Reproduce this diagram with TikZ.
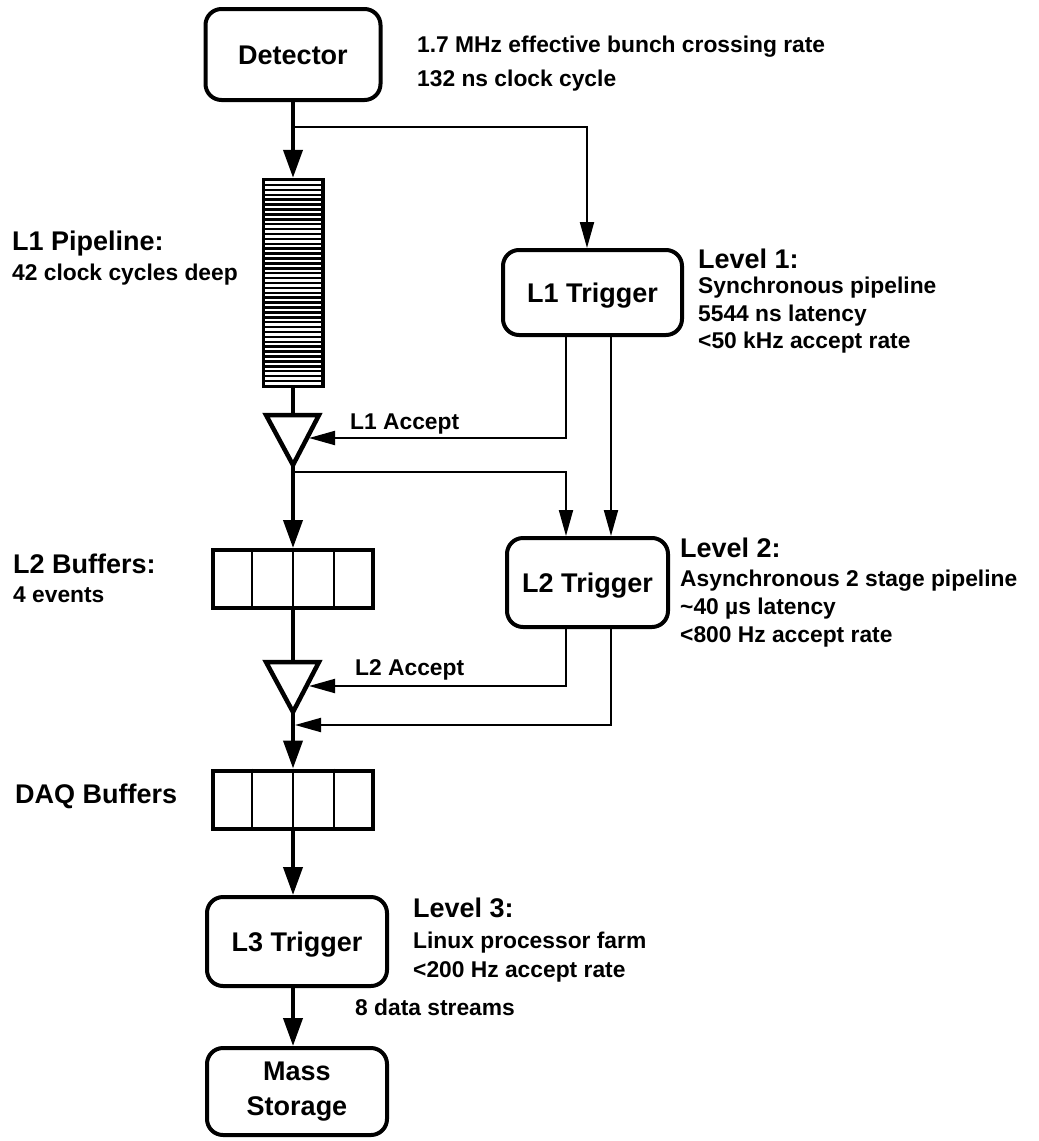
\documentclass[tikz,border=0pt]{standalone}
\usepackage{fontspec}
\setmainfont{Liberation Sans}
\usetikzlibrary{arrows.meta,calc}
\newcommand\dfBig{\fontsize{27}{35}\selectfont\bfseries}
\newcommand\dfSmall{\fontsize{22.8}{27}\selectfont\bfseries}
\tikzset{
  box/.style={draw, line width=4pt, rounded corners=16pt, inner sep=0pt, font=\dfBig, align=center},
  onel/.style={text height=19.5pt, text depth=0pt},
  buf/.style={draw, line width=4pt, minimum width=160pt, minimum height=58pt, inner sep=0pt},
  pipe/.style={fill=black, minimum width=63pt, minimum height=210pt, inner sep=0pt},
  tri/.style={line width=4.5pt, line join=miter},
  thickline/.style={line width=4pt},
  thickarrow/.style={line width=4pt, -{Triangle[length=28pt,width=19pt]}},
  thinarrow/.style={line width=2pt, -{Triangle[length=26pt,width=14pt]}},
  lbl/.style={anchor=base west, inner sep=0pt, font=\dfSmall},
  ttl/.style={anchor=base west, inner sep=0pt, font=\dfBig},
}
\begin{document}
\begin{tikzpicture}[x=1pt,y=-1pt]
\useasboundingbox (0,0) rectangle (1039,1141);

% boxes
\node[box, onel, minimum width=175pt, minimum height=91pt] (det) at (293,54.5) {Detector};
\node[box, onel, minimum width=179pt, minimum height=85pt] (l1) at (592.5,292.5) {L1 Trigger};
\node[box, onel, minimum width=161pt, minimum height=89pt] (l2) at (587.5,582.5) {L2 Trigger};
\node[box, onel, minimum width=180pt, minimum height=89pt] (l3) at (297,941.5) {L3 Trigger};
\node[box, minimum width=180pt, minimum height=87pt] (ms) at (297,1091.5) {Mass\\Storage};

% pipeline
\node[pipe] (pipe) at (293,283) {};
\foreach \k in {0,...,41} {
  \draw[white, line width=2.4pt] (265,{182.5+4.9*\k}) -- (321,{182.5+4.9*\k});
}

% buffers
\node[buf] (l2b) at (293,579) {};
\node[buf] (daq) at (293,799.5) {};
\foreach \b in {l2b,daq} {
  \foreach \f in {0.25,0.5,0.75} {
    \draw[line width=2.5pt] ($(\b.north west)!\f!(\b.north east)$) -- ($(\b.south west)!\f!(\b.south east)$);
  }
}

% triangles
\coordinate (t1l) at (266,415); \coordinate (t1r) at (319,415);
\coordinate (t1a) at (293,465); \coordinate (t1t) at (293,415);
\coordinate (t1e) at (309,438);
\draw[tri] (t1l) -- (t1r) -- (t1a) -- cycle;
\coordinate (t2l) at (266,662); \coordinate (t2r) at (319,662);
\coordinate (t2a) at (293,712); \coordinate (t2t) at (293,662);
\coordinate (t2e) at (309,686);
\draw[tri] (t2l) -- (t2r) -- (t2a) -- cycle;

% connectors
\coordinate (br1) at (293,127);
\coordinate (br2) at (293,472);
\coordinate (sp2) at (295,725);
\draw[thickarrow] (det.south) -- (det.south |- pipe.north);
\draw[thinarrow] (br1) -| ([xshift=-5.5pt]l1.north);
\draw[thickline] (pipe.south) -- (t1t);
\draw[thinarrow] ([xshift=-26.5pt]l1.south) |- (t1e);
\draw[thinarrow] ([xshift=18.5pt]l1.south) -- ([xshift=23.5pt]l2.north);
\draw[thickarrow] (t1a) -- (t1a |- l2b.north);
\draw[thinarrow] (br2) -| ([xshift=-21.5pt]l2.north);
\draw[thickline] (l2b.south) -- (t2t);
\draw[thinarrow] ([xshift=-21.5pt]l2.south) |- (t2e);
\draw[thinarrow] ([xshift=23.5pt]l2.south) |- (sp2);
\draw[thickarrow] (t2a) -- (t2a |- daq.north);
\draw[thickarrow] (daq.south) -- (daq.south |- l3.north);
\draw[thickarrow] (l3.south -| daq.south) -- (daq.south |- ms.north);

% texts
\node[lbl] (r1) at (417,52) {1.7 MHz effective bunch crossing rate};
\node[lbl] (r2) at (417,86) {132 ns clock cycle};

\node[ttl] (p1) at (12,250) {L1 Pipeline:};
\node[lbl] (p2) at (12,280) {42 clock cycles deep};

\node[ttl] (v1) at (698,268) {Level 1:};
\node[lbl] (v1a) at (698,293) {Synchronous pipeline};
\node[lbl] (v1b) at (698,321) {5544 ns latency};
\node[lbl] (v1c) at (698,348) {<50 kHz accept rate};

\node[lbl] (l1acc) at (350,429) {L1 Accept};

\node[ttl] (b1) at (13,573) {L2 Buffers:};
\node[lbl] (b2) at (13,602) {4 events};

\node[ttl] (v2) at (680,557) {Level 2:};
\node[lbl] (v2a) at (680,586) {Asynchronous 2 stage pipeline};
\node[lbl] (v2b) at (680,614) {\textasciitilde 40 µs latency};
\node[lbl] (v2c) at (680,642) {<800 Hz accept rate};

\node[lbl] (l2acc) at (355,675) {L2 Accept};

\node[ttl] (dq) at (15,803) {DAQ Buffers};

\node[ttl] (v3) at (413,917) {Level 3:};
\node[lbl] (v3a) at (413,948) {Linux processor farm};
\node[lbl] (v3b) at (413,977) {<200 Hz accept rate};

\node[lbl] (ds) at (355,1015) {8 data streams};
\end{tikzpicture}
\end{document}
